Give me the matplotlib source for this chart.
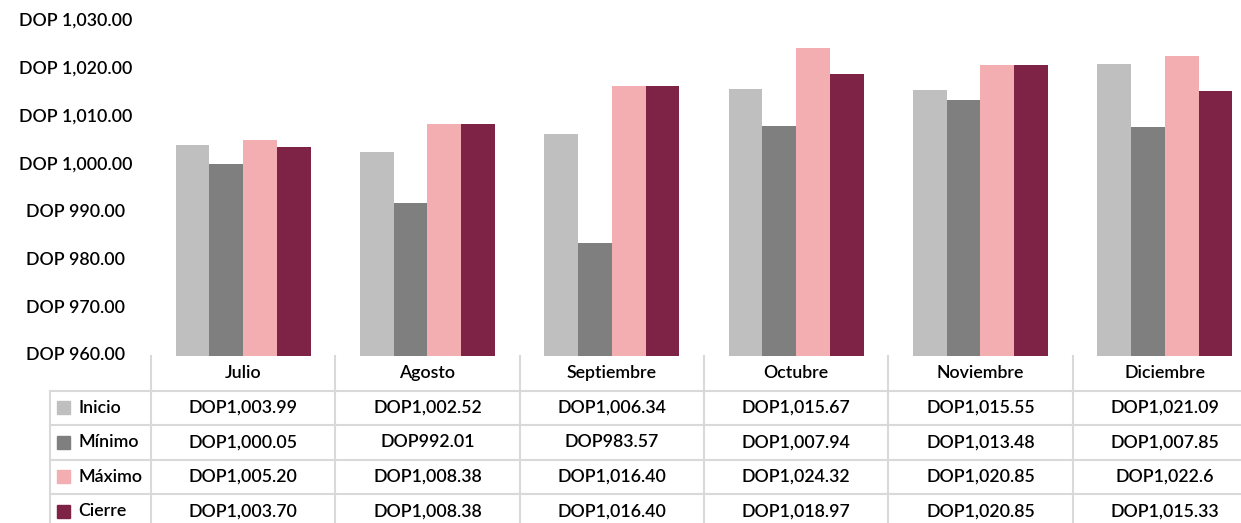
import matplotlib
matplotlib.use("Agg")
import matplotlib.pyplot as plt
from matplotlib.patches import Rectangle
from matplotlib.lines import Line2D

months = ["Julio", "Agosto", "Septiembre", "Octubre", "Noviembre", "Diciembre"]
series_names = ["Inicio", "Mínimo", "Máximo", "Cierre"]
inicio = [1003.99, 1002.52, 1006.34, 1015.67, 1015.55, 1021.09]
minimo = [1000.05, 992.01, 983.57, 1007.94, 1013.48, 1007.85]
maximo = [1005.20, 1008.38, 1016.40, 1024.32, 1020.85, 1022.6]
cierre = [1003.70, 1008.38, 1016.40, 1018.97, 1020.85, 1015.33]
inicio_txt = ["DOP1,003.99", "DOP1,002.52", "DOP1,006.34", "DOP1,015.67", "DOP1,015.55", "DOP1,021.09"]
minimo_txt = ["DOP1,000.05", "DOP992.01", "DOP983.57", "DOP1,007.94", "DOP1,013.48", "DOP1,007.85"]
maximo_txt = ["DOP1,005.20", "DOP1,008.38", "DOP1,016.40", "DOP1,024.32", "DOP1,020.85", "DOP1,022.6"]
cierre_txt = ["DOP1,003.70", "DOP1,008.38", "DOP1,016.40", "DOP1,018.97", "DOP1,020.85", "DOP1,015.33"]
yticks = [960, 970, 980, 990, 1000, 1010, 1020, 1030]
ytick_labels = ["DOP 960.00", "DOP 970.00", "DOP 980.00", "DOP 990.00",
                "DOP 1,000.00", "DOP 1,010.00", "DOP 1,020.00", "DOP 1,030.00"]
colors = ["#BFBFBF", "#7F7F7F", "#F2AEB0", "#7E2346"]

plt.rcParams['font.family'] = ['Lato', 'DejaVu Sans']
FW = "semibold"
FS = 12.8

W, H = 1241, 523
fig = plt.figure(figsize=(W / 100, H / 100), dpi=100)

def fx(px):
    return px / W

def fy(py):
    return 1 - py / H

ax_left, ax_right = 151, 1257
ax_top, ax_bot = 21, 355.5
ax = fig.add_axes([fx(ax_left), fy(ax_bot), (ax_right - ax_left) / W, (ax_bot - ax_top) / H])
ax.set_xlim(-0.5, len(months) - 0.5)
ax.set_ylim(960, 1030)
ax.axis("off")

data = [inicio, minimo, maximo, cierre]
bw = 0.183
for i, vals in enumerate(data):
    xs = [j + (i - 1.5) * bw for j in range(len(months))]
    ax.bar(xs, [v - 960 for v in vals], bottom=960, width=bw, color=colors[i], linewidth=0)

# y tick labels
for t, lab in zip(yticks, ytick_labels):
    ypx = ax_bot - (t - 960) / 70 * (ax_bot - ax_top)
    fig.text(fx(76), fy(ypx), lab, ha="center", va="center", fontsize=FS, fontweight=FW, color="#000000")

# table
grid = "#D9D9D9"
col_w = (ax_right - ax_left) / len(months)
row_tops = [356, 390.5, 425, 459.5, 494, 528.5]
leg_left = 50

def hline(y, x0, x1):
    fig.add_artist(Line2D([fx(x0), fx(x1)], [fy(y), fy(y)], color=grid, lw=1.5))

def vline(x, y0, y1):
    fig.add_artist(Line2D([fx(x), fx(x)], [fy(y0), fy(y1)], color=grid, lw=1.5))

for y in row_tops[1:-1]:
    hline(y, leg_left, W)
for j in range(len(months) + 1):
    vline(ax_left + j * col_w, row_tops[0], H)
vline(leg_left, row_tops[1], H)

for j, m in enumerate(months):
    cx = ax_left + (j + 0.5) * col_w
    cy = (row_tops[0] + row_tops[1]) / 2
    fig.text(fx(cx), fy(cy), m, ha="center", va="center", fontsize=FS, fontweight=FW)

texts = [inicio_txt, minimo_txt, maximo_txt, cierre_txt]
for i, name in enumerate(series_names):
    cy = (row_tops[i + 1] + row_tops[i + 2]) / 2
    fig.add_artist(Rectangle((fx(57), fy(cy + 6.5)), 13 / W, 13 / H, color=colors[i], transform=fig.transFigure))
    fig.text(fx(78), fy(cy), name, ha="left", va="center", fontsize=FS, fontweight=FW)
    for j in range(len(months)):
        cx = ax_left + (j + 0.5) * col_w
        fig.text(fx(cx), fy(cy), texts[i][j], ha="center", va="center", fontsize=FS, fontweight=FW)

fig.savefig("out.png", dpi=100)
